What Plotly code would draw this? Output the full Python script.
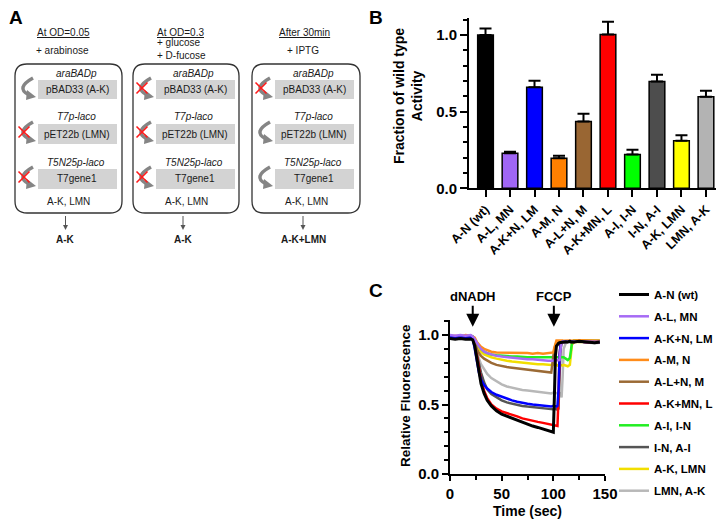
import plotly.graph_objects as go

# page body adds an 8px margin; figure coordinates are offset accordingly
OFF = 8
W, H = 724 - OFF, 525 - OFF
FONT = "Liberation Sans, Arial, sans-serif"

# ---------------- Panel B data ----------------
strains = ["A-N (wt)", "A-L, MN", "A-K+N, LM", "A-M, N", "A-L+N, M",
           "A-K+MN, L", "A-I, I-N", "I-N, A-I", "A-K, LMN", "LMN, A-K"]
activity = [1.0, 0.228, 0.659, 0.196, 0.435, 1.004, 0.22, 0.696, 0.311, 0.598]
activity_err = [0.043, 0.011, 0.043, 0.017, 0.052, 0.083, 0.032, 0.045, 0.035, 0.039]
bar_colors = ["#000000", "#a066f5", "#0000ff", "#ff8000", "#996633",
              "#ff0000", "#00ff00", "#4d4d4d", "#ffff00", "#b3b3b3"]
b_ticks = [0.0, 0.5, 1.0]
b_ticktext = ["0.0", "0.5", "1.0"]

# ---------------- Panel C data ----------------
time_s = [0, 5, 10, 15, 20, 22, 24, 26, 28, 30, 33, 36, 40, 45, 50, 55, 60, 65, 70, 75,
          80, 85, 90, 95, 98, 100, 101, 102, 103, 104, 105, 106, 107, 108, 109, 110,
          112, 114, 116, 117, 118, 120, 125, 130, 135, 140, 145]
fl_wt = [0.975, 0.97, 0.975, 0.97, 0.972, 0.965,
         0.92, 0.82, 0.73, 0.65, 0.58, 0.53, 0.49, 0.455, 0.43, 0.415, 0.40, 0.385, 0.37, 0.355,
         0.345, 0.335, 0.322, 0.312, 0.305, 0.30,
         0.55, 0.85, 0.92, 0.935, 0.94, 0.945, 0.945, 0.95, 0.95, 0.95, 0.952, 0.95, 0.955, 0.95,
         0.952, 0.95, 0.955, 0.95, 0.948, 0.945, 0.95]
fl_AL_MN = [1.0, 0.995, 1.0, 0.995, 1.0, 0.99,
            0.97, 0.94, 0.92, 0.90, 0.88, 0.87, 0.86, 0.85, 0.845, 0.84, 0.835, 0.83, 0.83, 0.825,
            0.825, 0.82, 0.82, 0.815, 0.815, 0.815,
            0.815, 0.82, 0.815, 0.82, 0.815, 0.82, 0.90, 0.95, 0.955, 0.955, 0.95, 0.955, 0.95, 0.955,
            0.95, 0.955, 0.95, 0.955, 0.95, 0.952, 0.95]
fl_AKN_LM = [0.985, 0.98, 0.985, 0.98, 0.985, 0.975,
             0.90, 0.80, 0.73, 0.68, 0.64, 0.615, 0.59, 0.57, 0.555, 0.54, 0.53, 0.52, 0.51, 0.505,
             0.50, 0.495, 0.49, 0.49, 0.485, 0.49,
             0.488, 0.49, 0.485, 0.49, 0.60, 0.85, 0.93, 0.945, 0.95, 0.952, 0.95, 0.955, 0.95, 0.952,
             0.955, 0.95, 0.955, 0.95, 0.95, 0.948, 0.95]
fl_AM_N = [0.99, 0.995, 0.99, 1.0, 0.995, 0.99,
           0.98, 0.95, 0.93, 0.915, 0.90, 0.89, 0.88, 0.875, 0.875, 0.87, 0.87, 0.875, 0.87, 0.87,
           0.865, 0.87, 0.865, 0.87, 0.87, 0.875,
           0.91, 0.945, 0.96, 0.96, 0.962, 0.96, 0.96, 0.962, 0.96, 0.958, 0.96, 0.962, 0.96, 0.958,
           0.96, 0.96, 0.962, 0.96, 0.958, 0.96, 0.96]
fl_ALN_M = [0.99, 0.985, 0.99, 0.985, 0.99, 0.985,
            0.95, 0.90, 0.87, 0.85, 0.83, 0.815, 0.80, 0.785, 0.775, 0.77, 0.765, 0.76, 0.755, 0.75,
            0.745, 0.74, 0.74, 0.735, 0.73, 0.85,
            0.90, 0.93, 0.94, 0.945, 0.95, 0.95, 0.952, 0.95, 0.955, 0.95, 0.952, 0.95, 0.955, 0.95,
            0.952, 0.95, 0.955, 0.95, 0.948, 0.945, 0.95]
fl_AKMN_L = [0.98, 0.985, 0.98, 0.985, 0.98, 0.975,
             0.94, 0.86, 0.76, 0.68, 0.60, 0.545, 0.50, 0.47, 0.45, 0.44, 0.43, 0.415, 0.40, 0.39,
             0.385, 0.375, 0.368, 0.36, 0.355, 0.352,
             0.35, 0.35, 0.35, 0.345, 0.55, 0.85, 0.93, 0.945, 0.95, 0.95, 0.952, 0.95, 0.955, 0.95,
             0.952, 0.95, 0.955, 0.95, 0.948, 0.945, 0.95]
fl_AI_IN = [0.995, 0.99, 0.995, 0.99, 0.995, 0.99,
            0.97, 0.94, 0.92, 0.90, 0.88, 0.87, 0.86, 0.855, 0.85, 0.845, 0.845, 0.845, 0.84, 0.84,
            0.84, 0.84, 0.84, 0.84, 0.84, 0.84,
            0.84, 0.845, 0.84, 0.84, 0.845, 0.84, 0.84, 0.845, 0.84, 0.84, 0.83, 0.82, 0.835, 0.90,
            0.94, 0.96, 0.96, 0.958, 0.96, 0.96, 0.958]
fl_IN_AI = [0.98, 0.985, 0.98, 0.985, 0.98, 0.975,
            0.93, 0.86, 0.79, 0.73, 0.66, 0.61, 0.575, 0.55, 0.53, 0.515, 0.505, 0.50, 0.49, 0.485,
            0.48, 0.475, 0.47, 0.47, 0.465, 0.465,
            0.465, 0.468, 0.465, 0.465, 0.47, 0.70, 0.90, 0.94, 0.95, 0.95, 0.952, 0.95, 0.955, 0.95,
            0.952, 0.95, 0.955, 0.95, 0.948, 0.945, 0.95]
fl_AK_LMN = [0.99, 0.985, 0.99, 0.985, 0.99, 0.985,
             0.96, 0.93, 0.90, 0.88, 0.86, 0.85, 0.84, 0.83, 0.82, 0.815, 0.81, 0.805, 0.80, 0.80,
             0.795, 0.79, 0.79, 0.785, 0.785, 0.79,
             0.785, 0.79, 0.785, 0.78, 0.785, 0.78, 0.785, 0.78, 0.78, 0.785, 0.78, 0.775, 0.785, 0.86,
             0.93, 0.95, 0.95, 0.955, 0.95, 0.95, 0.952]
fl_LMN_AK = [0.99, 0.985, 0.99, 0.985, 0.99, 0.985,
             0.95, 0.88, 0.83, 0.79, 0.75, 0.72, 0.69, 0.665, 0.645, 0.63, 0.62, 0.61, 0.605, 0.60,
             0.595, 0.59, 0.585, 0.58, 0.58, 0.585,
             0.58, 0.58, 0.582, 0.58, 0.58, 0.575, 0.58, 0.55, 0.70, 0.90, 0.94, 0.95, 0.95, 0.952,
             0.95, 0.955, 0.95, 0.95, 0.945, 0.94, 0.945]
series_names = strains
series_values = [fl_wt, fl_AL_MN, fl_AKN_LM, fl_AM_N, fl_ALN_M,
                 fl_AKMN_L, fl_AI_IN, fl_IN_AI, fl_AK_LMN, fl_LMN_AK]
line_colors = ["#000000", "#a66bf5", "#0000ff", "#ff8c1a", "#9b6a35",
               "#ff0000", "#22ee22", "#555555", "#f2de00", "#b8b8b8"]
c_xticks = [0, 50, 100, 150]
c_yticks = [0.0, 0.5, 1.0]
c_yticktext = ["0.0", "0.5", "1.0"]
events = [("dNADH", 22), ("FCCP", 100.5)]

# ---------------- Panel A content ----------------
stages = [
    {"header": "At OD=0.05", "adds": ["+ arabinose"], "blocked": [False, True, True], "result": "A-K"},
    {"header": "At OD=0.3", "adds": ["+ glucose", "+ D-fucose"], "blocked": [True, True, True], "result": "A-K"},
    {"header": "After 30min", "adds": ["+ IPTG"], "blocked": [True, False, False], "result": "A-K+LMN"},
]
promoters = ["araBADp", "T7p-laco", "T5N25p-laco"]
plasmids = ["pBAD33 (A-K)", "pET22b (LMN)", "T7gene1"]
cell_content = "A-K, LMN"


def fx(px):
    return (px - OFF) / W


def fy(py):
    return 1 - (py - OFF) / H


fig = go.Figure()

# Panel B bars
fig.add_trace(go.Bar(
    x=list(range(len(strains))), y=activity,
    marker=dict(color=bar_colors, line=dict(color="black", width=1.5)),
    width=0.64,
    error_y=dict(type="data", symmetric=False, array=activity_err,
                 arrayminus=[0] * len(activity_err), color="black", thickness=2, width=6),
    xaxis="x", yaxis="y", showlegend=False, hoverinfo="skip"))

# Panel C lines (drawn in reverse so wt is on top)
for i in reversed(range(len(series_names))):
    fig.add_trace(go.Scatter(
        x=time_s, y=series_values[i], mode="lines", name=series_names[i],
        line=dict(color=line_colors[i], width=3 if i == 0 else 2.5),
        xaxis="x2", yaxis="y2", legendrank=i + 1, legendgroup="g%d" % i))

shapes = []
annotations = []


def txt(x, y, s, size=10, color="#1a1a1a", bold=False, italic=False, xanchor="center", angle=0):
    if bold:
        s = "<b>%s</b>" % s
    if italic:
        s = "<i>%s</i>" % s
    annotations.append(dict(x=fx(x), y=fy(y), xref="paper", yref="paper", text=s,
                            showarrow=False, xanchor=xanchor, yanchor="middle",
                            textangle=angle,
                            font=dict(family=FONT, size=size, color=color)))


def rounded(x0, y0, x1, y1, r):
    p = "M %f,%f L %f,%f Q %f,%f %f,%f L %f,%f Q %f,%f %f,%f L %f,%f Q %f,%f %f,%f L %f,%f Q %f,%f %f,%f Z" % (
        fx(x0 + r), fy(y0), fx(x1 - r), fy(y0), fx(x1), fy(y0), fx(x1), fy(y0 + r),
        fx(x1), fy(y1 - r), fx(x1), fy(y1), fx(x1 - r), fy(y1),
        fx(x0 + r), fy(y1), fx(x0), fy(y1), fx(x0), fy(y1 - r),
        fx(x0), fy(y0 + r), fx(x0), fy(y0), fx(x0 + r), fy(y0))
    return p


# ---- Panel A drawing ----
box_x = [(15, 122), (133, 239), (252, 360)]
header_x = [63, 180, 304]
box_top, box_bot = 64, 213
label_y = [73, 117, 163]
rect_y = [(80, 99), (124, 144), (169, 189)]
for k, st in enumerate(stages):
    x0, x1 = box_x[k]
    cx = (x0 + x1) / 2
    shapes.append(dict(type="path", xref="paper", yref="paper", path=rounded(x0, box_top, x1, box_bot, 12),
                       line=dict(color="#333333", width=1.3), fillcolor="rgba(0,0,0,0)"))
    txt(header_x[k], 32, "<u>%s</u>" % st["header"])
    if len(st["adds"]) == 1:
        txt(header_x[k] - 1, 50, st["adds"][0])
    else:
        txt(x0 + 22, 43, st["adds"][0], xanchor="left")
        txt(x0 + 22, 55, st["adds"][1], xanchor="left")
    for r in range(3):
        yt, yb = rect_y[r]
        txt(x0 + 61, label_y[r], promoters[r], italic=True)
        shapes.append(dict(type="rect", xref="paper", yref="paper",
                           x0=fx(x0 + 23), x1=fx(x0 + 102), y0=fy(yb), y1=fy(yt),
                           line=dict(width=0), fillcolor="#d3d3d3", layer="below"))
        txt(x0 + 62, (yt + yb) / 2, plasmids[r])
        # curved promoter arrow
        shapes.append(dict(type="path", xref="paper", yref="paper",
                           path="M %f,%f Q %f,%f %f,%f" % (fx(x0 + 18), fy(yt - 2), fx(x0), fy(yt + 8),
                                                            fx(x0 + 14), fy(yt + 15)),
                           line=dict(color="#858585", width=3.5)))
        shapes.append(dict(type="path", xref="paper", yref="paper",
                           path="M %f,%f L %f,%f L %f,%f Z" % (fx(x0 + 12), fy(yt + 10), fx(x0 + 21), fy(yt + 17),
                                                               fx(x0 + 11), fy(yt + 20)),
                           line=dict(width=0), fillcolor="#858585"))
        if st["blocked"][r]:
            xc, yc = x0 + 9, yt + 8
            for d in (1, -1):
                shapes.append(dict(type="line", xref="paper", yref="paper",
                                   x0=fx(xc - 5.5), x1=fx(xc + 5.5), y0=fy(yc - 5.5 * d), y1=fy(yc + 5.5 * d),
                                   line=dict(color="#ff1a1a", width=1.6)))
    txt(cx, 202, cell_content)
    shapes.append(dict(type="line", xref="paper", yref="paper", x0=fx(cx - 3), x1=fx(cx - 3),
                       y0=fy(216), y1=fy(227), line=dict(color="#555555", width=1)))
    shapes.append(dict(type="path", xref="paper", yref="paper",
                       path="M %f,%f L %f,%f L %f,%f Z" % (fx(cx - 5.5), fy(225), fx(cx - 0.5), fy(225),
                                                           fx(cx - 3), fy(230)),
                       line=dict(width=0), fillcolor="#555555"))
    txt(cx - 3, 239, st["result"], bold=True)

# Panel letters
txt(16, 18, "A", size=19, color="black", bold=True)
txt(376, 18, "B", size=19, color="black", bold=True)
txt(376, 290, "C", size=19, color="black", bold=True)

# axis titles
txt(408, 96, "Fraction of wild type<br>Activity", size=14, color="black", bold=True, angle=-90)
txt(405, 396, "Relative Fluorescence", size=13.5, color="black", bold=True, angle=-90)
txt(527, 511, "Time (sec)", size=14, color="black", bold=True)

# event arrows in panel C
for name, t in events:
    annotations.append(dict(x=t, y=1.06, xref="x2", yref="y2", text="<b>%s</b>" % name,
                            showarrow=True, arrowhead=2, arrowsize=1.3, arrowwidth=2,
                            arrowcolor="black", ax=0, ay=-30,
                            font=dict(family=FONT, size=13, color="black")))

axis_common = dict(showgrid=False, zeroline=False, showline=True, linecolor="black", linewidth=2,
                   ticks="outside", tickwidth=2, tickcolor="black",
                   tickfont=dict(family=FONT, size=15, color="black", weight="bold"))

fig.update_layout(
    width=W, height=H, margin=dict(l=0, r=0, t=0, b=0, autoexpand=False),
    paper_bgcolor="white", plot_bgcolor="white",
    xaxis=dict(domain=[fx(469), fx(716)], range=[-0.674, 9.41], anchor="y",
               tickvals=list(range(len(strains))), ticktext=strains, tickangle=-45,
               **{**axis_common, "ticklen": 7,
                  "tickfont": dict(family=FONT, size=12.5, color="black", weight="bold")}),
    yaxis=dict(domain=[fy(188.3), fy(18)], range=[0, 1.111], anchor="x",
               tickvals=b_ticks, ticktext=b_ticktext, ticklen=7,
               minor=dict(dtick=0.1, tick0=0, ticklen=4, tickwidth=2, ticks="outside", tickcolor="black"),
               **axis_common),
    xaxis2=dict(domain=[fx(450), fx(605)], range=[0, 150], anchor="y2",
                tickvals=c_xticks, ticklen=5,
                minor=dict(dtick=25, tick0=0, ticklen=4, tickwidth=2, ticks="outside", tickcolor="black"),
                **axis_common),
    yaxis2=dict(domain=[fy(474), fy(320)], range=[0, 1.108], anchor="x2",
                tickvals=c_yticks, ticktext=c_yticktext, ticklen=6,
                minor=dict(dtick=0.1, tick0=0, ticklen=4, tickwidth=2, ticks="outside", tickcolor="black"),
                **axis_common),
    legend=dict(x=fx(614), y=fy(280), xanchor="left", yanchor="top",
                font=dict(family=FONT, size=11.5, color="black", weight="bold"),
                bgcolor="rgba(0,0,0,0)", tracegroupgap=2.8, itemwidth=30, borderwidth=0),
    shapes=shapes, annotations=annotations,
)

fig.write_html("out.html")
